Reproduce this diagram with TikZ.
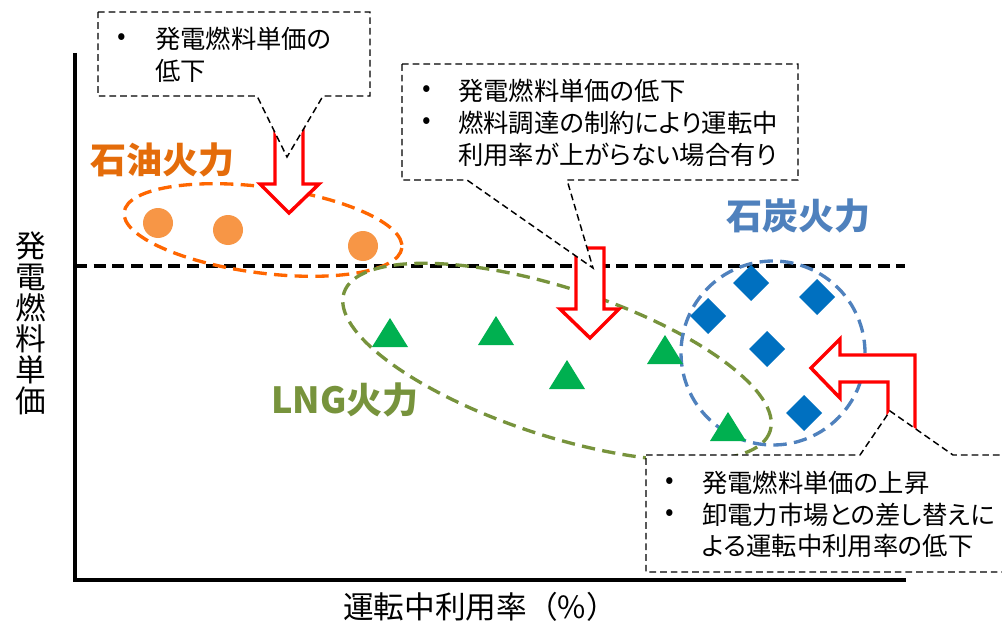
\documentclass[tikz,border=0pt]{standalone}
\usepackage{fontspec}
\setmainfont{Noto Sans CJK JP}
\newfontfamily\propcjk{Noto Sans CJK JP}[RawFeature=+palt]
\definecolor{oiltext}{HTML}{E46C0A}
\definecolor{oilring}{HTML}{FF6600}
\definecolor{oildot}{HTML}{F79646}
\definecolor{lnggreen}{HTML}{77933C}
\definecolor{lngtri}{HTML}{00B050}
\definecolor{coaltext}{HTML}{4F81BD}
\definecolor{coalring}{HTML}{4F81BD}
\definecolor{coaldia}{HTML}{0070C0}
\begin{document}
\begin{tikzpicture}[x=0.75pt,y=-0.75pt,
  callout/.style={draw=black,fill=white,line width=1.1pt,dash pattern=on 5pt off 3pt},
  ring/.style={line width=2.5pt,dash pattern=on 10pt off 5.5pt},
  redarrow/.style={draw=red,fill=white,line width=2.6pt,line join=miter},
  ctext/.style={anchor=west,inner sep=0pt,font=\propcjk\fontsize{19}{24}\selectfont},
  cbullet/.style={anchor=center,inner sep=0pt,font=\fontsize{19}{24}\selectfont},
  grouplabel/.style={inner sep=0pt,font=\fontsize{27}{30}\selectfont\bfseries},
  axislabel/.style={inner sep=0pt,align=center,font=\fontsize{23}{23.25}\selectfont}]
\useasboundingbox (0,0) rectangle (1002,624);
\fill[white] (0,0) rectangle (1002,624);

% axes
\draw[line width=3pt] (75,53) -- (75,580) -- (906,580);
% reference line
\draw[line width=2.4pt,dash pattern=on 9pt off 5pt] (75,266) -- (905,266);

% group rings
\draw[ring,oilring,rotate around={-7.4:(263,230)}] (263,230) ellipse [x radius=140, y radius=43];
\draw[ring,lnggreen,rotate around={-18:(557,362)}] (557,362) ellipse [x radius=224, y radius=74];
\draw[ring,coalring] (773,353) circle [radius=69pt];

% markers
\foreach \px/\py in {158/223,228/230,363/246}
  \fill[oildot] (\px,\py) circle [radius=11.25pt];
\foreach \px/\py in {390/318,496/316,567/360,665/335,728/412}
  \fill[lngtri] (\px-18,\py+29) -- (\px,\py) -- (\px+18,\py+29) -- cycle;
\foreach \px/\py in {751/283,817/297,708/316,767/349,804/413}
  \fill[coaldia] (\px,\py-18) -- (\px+18,\py) -- (\px,\py+18) -- (\px-18,\py) -- cycle;

% red arrows
\draw[redarrow] (275,120) -- (303,120) -- (303,184) -- (319,184) -- (289,213) -- (260,184) -- (275,184) -- cycle;
\draw[redarrow] (576,248) -- (604,248) -- (604,309) -- (619,309) -- (590,338) -- (560,309) -- (576,309) -- cycle;
\draw[redarrow] (811,368) -- (840,339) -- (840,355) -- (915,355) -- (915,440) -- (888,440) -- (888,382) -- (840,382) -- (840,398) -- cycle;

% callouts
\draw[callout] (98,12) -- (370,12) -- (370,96) -- (323,96) -- (287,157) -- (257,96) -- (98,96) -- cycle;
\draw[callout] (402,64) -- (798,64) -- (798,180) -- (567,180) -- (593,268) -- (467,180) -- (402,180) -- cycle;
\draw[callout] (646,455) -- (860,455) -- (890,411) -- (953,455) -- (1006,455) -- (1006,572) -- (646,572) -- cycle;

% callout texts
\node[cbullet] (b1a) at (122,39) {•};
\node[ctext] (t1a) at (155,39) {発電燃料単価の};
\node[ctext] (t1b) at (155,71) {低下};

\node[cbullet] (b2a) at (427,91) {•};
\node[ctext] (t2a) at (458,91) {発電燃料単価の低下};
\node[cbullet] (b2b) at (427,123) {•};
\node[ctext] (t2b) at (458,123) {燃料調達の制約により運転中};
\node[ctext] (t2c) at (458,155) {利用率が上がらない場合有り};

\node[cbullet] (b3a) at (670,483) {•};
\node[ctext] (t3a) at (702,483) {発電燃料単価の上昇};
\node[cbullet] (b3b) at (670,515) {•};
\node[ctext] (t3b) at (702,515) {卸電力市場との差し替えに};
\node[ctext] (t3c) at (702,546) {よる運転中利用率の低下};

% group labels
\node[grouplabel,text=oiltext] (oil) at (162,160) {石油火力};
\node[grouplabel,text=coaltext] (coal) at (798,216) {石炭火力};
\node[grouplabel,text=lnggreen] (lng) at (345,400) {LNG火力};

% axis labels
\node[axislabel] (ylab) at (31,323) {発\\電\\燃\\料\\単\\価};
\node[axislabel] (xlab) at (480,607) {運転中利用率（\%）};
\end{tikzpicture}
\end{document}
